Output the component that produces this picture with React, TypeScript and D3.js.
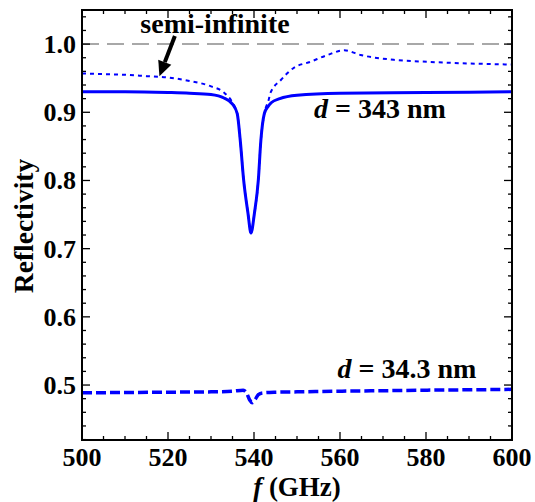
import React from 'react';
import * as d3 from 'd3';

// frequency (GHz) / reflectivity
const thickFreq = [500, 510, 520, 525, 530, 533, 535, 536.1, 536.8, 537.6, 538.6, 539.3, 540.1, 541.0, 541.6, 542.4, 543.2, 544, 546, 550, 560, 580, 600];
const thickR = [0.930, 0.930, 0.929, 0.928, 0.926, 0.921, 0.912, 0.898, 0.859, 0.800, 0.752, 0.723, 0.752, 0.800, 0.859, 0.898, 0.908, 0.914, 0.920, 0.925, 0.928, 0.929, 0.930];

const semiFreq = [500, 505, 510, 515, 520, 525, 530, 533, 535, 536.1, 536.8, 537.6, 538.6, 539.3, 540.1, 541.0, 541.6, 542.4, 543.4, 543.8, 546.2, 549.2, 553.1, 557.1, 561, 564.8, 572.5, 580.4, 588, 600];
const semiR = [0.957, 0.956, 0.955, 0.953, 0.951, 0.946, 0.938, 0.929, 0.914, 0.898, 0.859, 0.800, 0.752, 0.723, 0.752, 0.800, 0.859, 0.898, 0.918, 0.928, 0.947, 0.965, 0.974, 0.984, 0.991, 0.984, 0.977, 0.974, 0.972, 0.970];

const thinFreq = [500, 510, 520, 530, 535, 537.5, 538.3, 539, 539.6, 540.3, 541, 542, 545, 550, 560, 570, 580, 590, 600];
const thinR = [0.4887, 0.489, 0.4895, 0.490, 0.491, 0.4925, 0.488, 0.478, 0.474, 0.479, 0.486, 0.4885, 0.4895, 0.490, 0.491, 0.4917, 0.4925, 0.493, 0.4937];

const xTicks = [500, 520, 540, 560, 580, 600];
const yTicks = [0.5, 0.6, 0.7, 0.8, 0.9, 1.0];

const W = 535, H = 502;
const m = { left: 82, right: 23, top: 10, bottom: 62 };
const font = "'Liberation Serif', 'Times New Roman', serif";

export default function App() {
  const x = d3.scaleLinear().domain([500, 600]).range([m.left, W - m.right]);
  const y = d3.scaleLinear().domain([0.4194, 1.05]).range([H - m.bottom, m.top]);
  const x0 = m.left, x1 = W - m.right, y0 = H - m.bottom, y1 = m.top;

  const line = d3.line<[number, number]>().x(d => x(d[0])).y(d => y(d[1])).curve(d3.curveMonotoneX);
  const pts = (f: number[], r: number[]) => f.map((v, i) => [v, r[i]] as [number, number]);

  const xMinor = d3.range(500, 600.01, 5).filter(v => !xTicks.includes(v));
  const yMinor = d3.range(0.42, 1.05, 0.02).filter(v => !yTicks.some(t => Math.abs(t - v) < 1e-6));

  const tickLines: JSX.Element[] = [];
  const addX = (v: number, len: number, k: string) => {
    tickLines.push(<line key={'xb' + k} x1={x(v)} x2={x(v)} y1={y0} y2={y0 - len} />);
    tickLines.push(<line key={'xt' + k} x1={x(v)} x2={x(v)} y1={y1} y2={y1 + len} />);
  };
  const addY = (v: number, len: number, k: string) => {
    tickLines.push(<line key={'yl' + k} x1={x0} x2={x0 + len} y1={y(v)} y2={y(v)} />);
    tickLines.push(<line key={'yr' + k} x1={x1} x2={x1 - len} y1={y(v)} y2={y(v)} />);
  };
  xTicks.forEach((v, i) => addX(v, 8, 'M' + i));
  xMinor.forEach((v, i) => addX(v, 4, 'm' + i));
  yTicks.forEach((v, i) => addY(v, 8, 'M' + i));
  yMinor.forEach((v, i) => addY(v, 4, 'm' + i));

  // arrow pointing at the semi-infinite curve
  const ax0 = x(521.6), ay0 = y(1.012), ax1 = x(518), ay1 = y(0.953);
  const ang = Math.atan2(ay1 - ay0, ax1 - ax0);
  const hl = 15, hw = 7;
  const bx = ax1 - hl * Math.cos(ang), by = ay1 - hl * Math.sin(ang);
  const head = `M${ax1},${ay1} L${bx + hw * Math.sin(ang)},${by - hw * Math.cos(ang)} L${bx - hw * Math.sin(ang)},${by + hw * Math.cos(ang)} Z`;

  return (
    <svg width={W} height={H} style={{ position: 'absolute', left: 0, top: 0, background: '#fff', fontFamily: font, fontWeight: 'bold' }}>
      <defs>
        <clipPath id="plot"><rect x={x0} y={y1} width={x1 - x0} height={y0 - y1} /></clipPath>
      </defs>
      <g clipPath="url(#plot)" fill="none">
        <line x1={x0} x2={x1} y1={y(1)} y2={y(1)} stroke="#8c8c8c" strokeWidth={1.5} strokeDasharray="17,8" />
        <path d={line(pts(semiFreq, semiR)) || ''} stroke="#0000ff" strokeWidth={2} strokeDasharray="4,4" />
        <path d={line(pts(thickFreq, thickR)) || ''} stroke="#0000ff" strokeWidth={3} />
        <path d={line(pts(thinFreq, thinR)) || ''} stroke="#0000ff" strokeWidth={3.5} strokeDasharray="10,4" />
      </g>
      <g stroke="#000" strokeWidth={1.3}>{tickLines}</g>
      <rect x={x0} y={y1} width={x1 - x0} height={y0 - y1} fill="none" stroke="#000" strokeWidth={2} />

      <g fill="#000" style={{ fontSize: 26 }}>
        {xTicks.map(v => (
          <text key={v} x={x(v)} y={y0 + 26} textAnchor="middle">{v}</text>
        ))}
        {yTicks.map(v => (
          <text key={v} x={x0 - 6} y={y(v) + 9} textAnchor="end">{v.toFixed(1)}</text>
        ))}
      </g>
      <g fill="#000" style={{ fontSize: 28 }}>
        <text x={297} y={496} textAnchor="middle" style={{ fontSize: 27 }}>
          <tspan style={{ fontStyle: 'italic' }}>f</tspan> (GHz)
        </text>
        <text transform={`translate(33,226) rotate(-90)`} textAnchor="middle" style={{ fontSize: 27.5 }}>Reflectivity</text>
        <text x={215} y={33} textAnchor="middle">semi-infinite</text>
        <text x={380} y={118} textAnchor="middle">
          <tspan style={{ fontStyle: 'italic' }}>d</tspan> = 343 nm
        </text>
        <text x={407} y={378} textAnchor="middle">
          <tspan style={{ fontStyle: 'italic' }}>d</tspan> = 34.3 nm
        </text>
      </g>
      <line x1={ax0} y1={ay0} x2={bx} y2={by} stroke="#000" strokeWidth={4} />
      <path d={head} fill="#000" />
    </svg>
  );
}
